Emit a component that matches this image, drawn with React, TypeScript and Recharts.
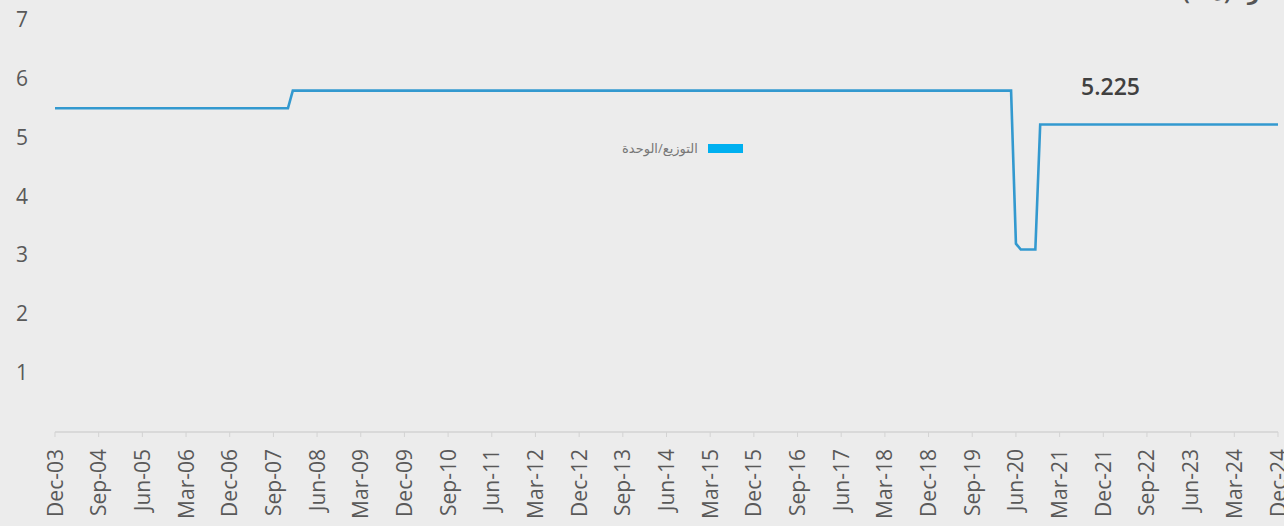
import React from 'react';
import { LineChart, Line, XAxis, YAxis, ReferenceDot } from 'recharts';

// month offsets from Dec-03 where the distribution changes
const monthIndex = [0, 48, 49, 197, 198, 199, 202, 203, 252];
const distribution = [5.5, 5.5, 5.8, 5.8, 3.2, 3.1, 3.1, 5.225, 5.225];

const tickLabels = [
  'Dec-03', 'Sep-04', 'Jun-05', 'Mar-06', 'Dec-06', 'Sep-07', 'Jun-08', 'Mar-09',
  'Dec-09', 'Sep-10', 'Jun-11', 'Mar-12', 'Dec-12', 'Sep-13', 'Jun-14', 'Mar-15',
  'Dec-15', 'Sep-16', 'Jun-17', 'Mar-18', 'Dec-18', 'Sep-19', 'Jun-20', 'Mar-21',
  'Dec-21', 'Sep-22', 'Jun-23', 'Mar-24', 'Dec-24',
];
const tickMonths = tickLabels.map((_, i) => i * 9);
const yTicks = [1, 2, 3, 4, 5, 6, 7];

const seriesName = 'التوزيع/الوحدة';
const lastValue = '5.225';
const title = 'التوزيع للفترة (د.ك)';

const data = monthIndex.map((m, i) => ({ m, value: distribution[i] }));

const FONT = '"Open Sans", "DejaVu Sans", sans-serif';

const XTick = (props: any) => {
  const { x, payload } = props;
  const label = tickLabels[Math.round(payload.value / 9)] ?? '';
  return (
    <g transform={`translate(${x},449)`}>
      <text transform="rotate(-90)" textAnchor="end" dy={7.5} fill="#595959" fontSize={21} fontFamily={FONT}>
        {label}
      </text>
    </g>
  );
};

const YTick = (props: any) => {
  const { y, payload } = props;
  return (
    <text x={28} y={y} dy={7} textAnchor="end" fill="#595959" fontSize={21} fontFamily={FONT}>
      {payload.value}
    </text>
  );
};

export default function App() {
  return (
    <div style={{ position: 'fixed', left: 0, top: 0, width: 1284, height: 526, background: '#ececec', overflow: 'hidden' }}>
      {/* chart title, cropped off the top-right edge as in the source image */}
      <div
        style={{
          position: 'absolute', left: 1183, top: -21, fontFamily: FONT, fontSize: 20, fontWeight: 700,
          color: '#555', direction: 'rtl', whiteSpace: 'nowrap',
        }}
      >
        {title}
      </div>
      <div
        style={{
          position: 'absolute', top: 139, left: 622, display: 'flex', alignItems: 'center',
          fontFamily: FONT, fontSize: 13, color: '#777', zIndex: 2,
        }}
      >
        <span style={{ marginRight: 10 }}>{seriesName}</span>
        <span style={{ display: 'inline-block', width: 35, height: 9, background: '#00b0f0' }} />
      </div>
      <LineChart width={1284} height={526} data={data} margin={{ top: 20, right: 6, bottom: 0, left: 0 }}>
        <XAxis
          dataKey="m"
          type="number"
          domain={[0, 252]}
          ticks={tickMonths}
          interval={0}
          height={94}
          tick={<XTick />}
          axisLine={{ stroke: '#d3d3d3', strokeWidth: 1.5 }}
          tickLine={{ stroke: '#d3d3d3' }}
          tickSize={5}
        />
        <YAxis
          type="number"
          domain={[0, 7]}
          ticks={yTicks}
          width={55}
          axisLine={false}
          tickLine={false}
          tick={<YTick />}
        />
        <Line
          type="linear"
          dataKey="value"
          name={seriesName}
          stroke="#3399cf"
          strokeWidth={2.6}
          dot={false}
          activeDot={false}
          isAnimationActive={false}
        />
        <ReferenceDot
          x={217.5}
          y={5.87}
          r={0}
          label={{ value: lastValue, fill: '#404040', fontSize: 23, fontWeight: 600, fontFamily: FONT, position: 'center' }}
        />
      </LineChart>
    </div>
  );
}
